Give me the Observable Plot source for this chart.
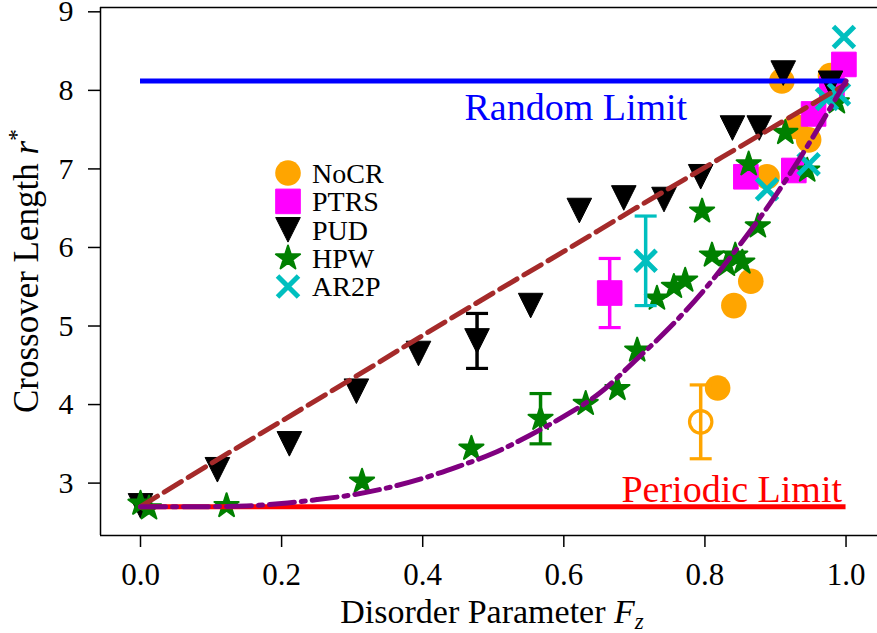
<!DOCTYPE html>
<html><head><meta charset="utf-8">
<script src="https://cdn.jsdelivr.net/npm/d3@7"></script>
<script src="https://cdn.jsdelivr.net/npm/@observablehq/plot@0.6"></script>
<style>
html,body{margin:0;padding:0;background:#fff;}
#chart{width:877px;height:633px;overflow:hidden;}
#chart svg, #chart svg text, #chart svg tspan { font-family: "Liberation Serif", "DejaVu Serif", serif !important; }
</style></head><body><div id="chart"></div>
<script>
// ---------- data ----------
const xTicks = [0, 0.2, 0.4, 0.6, 0.8, 1.0];
const yTicks = [3, 4, 5, 6, 7, 8, 9];
const xDomain = [-0.0567, 1.0446];
const yDomain = [2.333, 9.055];

const seriesNames = ["NoCR", "PTRS", "PUD", "HPW", "AR2P"];

const nocrX = [0.841, 0.865, 0.818, 0.888, 0.928, 0.947, 0.909, 0.978];
const nocrY = [5.26, 5.57, 4.21, 6.90, 7.54, 7.37, 8.12, 8.19];
const nocrOpenX = [0.794], nocrOpenY = [3.78], nocrOpenErr = [0.47];

const ptrsX = [0.858, 0.926, 0.954, 0.980, 0.997];
const ptrsY = [6.90, 6.98, 7.70, 8.02, 8.33];
const ptrsErrX = [0.665], ptrsErrY = [5.42], ptrsErr = [0.44];

const pudX = [0.0, 0.109, 0.211, 0.306, 0.394, 0.553, 0.622, 0.685, 0.742, 0.794, 0.839, 0.877, 0.911, 0.978];
const pudY = [2.71, 3.17, 3.50, 4.17, 4.65, 5.26, 6.47, 6.63, 6.61, 6.90, 7.52, 7.52, 8.22, 8.09];
const pudErrX = [0.477], pudErrY = [4.81], pudErr = [0.35];

const hpwX = [0.0, 0.012, 0.122, 0.314, 0.469, 0.631, 0.676, 0.704, 0.732, 0.756, 0.772, 0.796, 0.810, 0.831, 0.843, 0.853, 0.862, 0.875, 0.914, 0.945, 0.987];
const hpwY = [2.74, 2.68, 2.71, 3.02, 3.44, 4.01, 4.20, 4.69, 5.35, 5.50, 5.58, 6.46, 5.90, 5.78, 5.90, 5.81, 7.06, 6.27, 7.46, 6.98, 7.85];
const hpwErrX = [0.567], hpwErrY = [3.82], hpwErr = [0.32];

const ar2pX = [0.888, 0.947, 0.973, 0.990, 0.997];
const ar2pY = [6.74, 7.06, 7.89, 7.95, 8.68];
const ar2pErrX = [0.716], ar2pErrY = [5.83], ar2pErr = [0.57];

const fitLinX = [0, 0.1, 0.2, 0.3, 0.4, 0.5, 0.6, 0.7, 0.8, 0.9, 1.0];
const fitLinY = [2.70, 3.25, 3.79, 4.33, 4.88, 5.42, 5.95, 6.49, 7.02, 7.55, 8.08];

const fitPowX = [0, 0.05, 0.1, 0.15, 0.2, 0.25, 0.3, 0.35, 0.4, 0.45, 0.5, 0.55, 0.6, 0.65, 0.7, 0.75, 0.8, 0.85, 0.9, 0.95, 1.0];
const fitPowY = [2.70, 2.70, 2.70, 2.71, 2.74, 2.79, 2.85, 2.94, 3.06, 3.21, 3.38, 3.60, 3.85, 4.14, 4.55, 4.98, 5.47, 6.04, 6.66, 7.36, 8.12];

const randomLimit = 8.12, periodicLimit = 2.70;
const limitSpan = [0, 1.0];
const annotations = [
  {label: "Random Limit", x: 0.617, y: 7.78, color: "#0000ff"},
  {label: "Periodic Limit", x: 0.838, y: 2.91, color: "#ff0000"}
];

// ---------- helpers ----------
const pts = (xs, ys, es) => xs.map((x, i) => ({x, y: ys[i], e: es ? es[i] : 0}));
const colors = {NoCR: "#ffa500", PTRS: "#ff00ff", PUD: "#000000", HPW: "#008000", AR2P: "#00bfbf"};

const triDown = {draw(c, s) { const h = Math.sqrt(s / Math.PI); c.moveTo(-h, -h); c.lineTo(h, -h); c.lineTo(0, h); c.closePath(); }};
const sq = {draw(c, s) { const h = Math.sqrt(s / Math.PI); c.moveTo(-h, -h); c.lineTo(h, -h); c.lineTo(h, h); c.lineTo(-h, h); c.closePath(); }};
const xMark = {draw(c, s) { const h = Math.sqrt(s / Math.PI); c.moveTo(-h, -h); c.lineTo(h, h); c.moveTo(h, -h); c.lineTo(-h, h); }};
const capMark = {draw(c, s) { const h = Math.sqrt(s / Math.PI); c.moveTo(-h, 0); c.lineTo(h, 0); }};

const styles = {
  NoCR: {symbol: "circle", r: 12.8, fill: colors.NoCR, stroke: "none"},
  PTRS: {symbol: sq, r: 12.3, fill: colors.PTRS, stroke: colors.PTRS, strokeWidth: 1, strokeLinejoin: "round"},
  PUD: {symbol: triDown, r: 12.3, fill: colors.PUD, stroke: colors.PUD, strokeWidth: 1, strokeLinejoin: "round"},
  HPW: {symbol: "star", r: 7.6, fill: colors.HPW, stroke: colors.HPW, strokeWidth: 2, strokeLinejoin: "round"},
  AR2P: {symbol: xMark, r: 10.5, fill: "none", stroke: colors.AR2P, strokeWidth: 5}
};

function errMarks(data, color) {
  return [
    Plot.ruleX(data, {x: "x", y1: d => d.y - d.e, y2: d => d.y + d.e, stroke: color, strokeWidth: 3.5}),
    Plot.dot(data, {x: "x", y: d => d.y - d.e, symbol: capMark, r: 11, stroke: color, fill: "none", strokeWidth: 3.2}),
    Plot.dot(data, {x: "x", y: d => d.y + d.e, symbol: capMark, r: 11, stroke: color, fill: "none", strokeWidth: 3.2})
  ];
}

const plot = Plot.plot({
  width: 877, height: 633,
  marginLeft: 100, marginRight: 0, marginTop: 7, marginBottom: 98,
  style: {fontSize: "30px", background: "#fff", overflow: "hidden"},
  x: {domain: xDomain},
  y: {domain: yDomain},
  marks: [
    Plot.axisX(xTicks, {tickSize: 12, tickPadding: 15, tickFormat: d3.format(".1f"), label: null, strokeWidth: 1.5, fontSize: 31, fill: "#000"}),
    Plot.axisY(yTicks, {tickSize: 12, tickPadding: 15, tickFormat: d3.format("d"), label: null, strokeWidth: 1.5, fontSize: 30, fill: "#000"}),
    // series markers
    Plot.dot(pts(nocrX, nocrY), {x: "x", y: "y", ...styles.NoCR}),
    ...errMarks(pts(nocrOpenX, nocrOpenY, nocrOpenErr), colors.NoCR),
    Plot.dot(pts(nocrOpenX, nocrOpenY), {x: "x", y: "y", symbol: "circle", r: 11.2, fill: "none", stroke: colors.NoCR, strokeWidth: 3.2}),
    Plot.dot(pts(ptrsX, ptrsY), {x: "x", y: "y", ...styles.PTRS}),
    ...errMarks(pts(ptrsErrX, ptrsErrY, ptrsErr), colors.PTRS),
    Plot.dot(pts(ptrsErrX, ptrsErrY), {x: "x", y: "y", ...styles.PTRS}),
    Plot.dot(pts(pudX, pudY), {x: "x", y: "y", ...styles.PUD}),
    ...errMarks(pts(pudErrX, pudErrY, pudErr), colors.PUD),
    Plot.dot(pts(pudErrX, pudErrY), {x: "x", y: "y", ...styles.PUD}),
    Plot.dot(pts(hpwX, hpwY), {x: "x", y: "y", ...styles.HPW}),
    ...errMarks(pts(hpwErrX, hpwErrY, hpwErr), colors.HPW),
    Plot.dot(pts(hpwErrX, hpwErrY), {x: "x", y: "y", ...styles.HPW}),
    Plot.dot(pts(ar2pX, ar2pY), {x: "x", y: "y", ...styles.AR2P}),
    ...errMarks(pts(ar2pErrX, ar2pErrY, ar2pErr), colors.AR2P),
    Plot.dot(pts(ar2pErrX, ar2pErrY), {x: "x", y: "y", ...styles.AR2P}),
    // limits
    Plot.ruleY([periodicLimit], {x1: limitSpan[0], x2: limitSpan[1], stroke: "#ff0000", strokeWidth: 5}),
    Plot.ruleY([randomLimit], {x1: limitSpan[0], x2: limitSpan[1], stroke: "#0000ff", strokeWidth: 5}),
    // fits
    Plot.line(pts(fitLinX, fitLinY), {x: "x", y: "y", stroke: "#a52a2a", strokeWidth: 5, strokeDasharray: "20 8", curve: "catmull-rom"}),
    Plot.line(pts(fitPowX, fitPowY), {x: "x", y: "y", stroke: "#800080", strokeWidth: 5, strokeDasharray: "25 7 4 7", curve: "catmull-rom"}),
    // annotations
    Plot.text(annotations, {x: "x", y: "y", text: "label", fill: "color", fontSize: 38, textAnchor: "middle"}),
    // frame (left, top, bottom)
    Plot.ruleX([xDomain[0]], {stroke: "#000", strokeWidth: 1.5}),
    Plot.ruleY(yDomain, {stroke: "#000", strokeWidth: 1.5})
  ]
});

document.getElementById("chart").appendChild(plot);
const svg = d3.select(plot);

// axis labels with math styling
const xl = svg.append("text").attr("x", 492).attr("y", 623).attr("text-anchor", "middle")
  .attr("font-size", 34).attr("fill", "#000");
xl.append("tspan").text("Disorder Parameter ");
xl.append("tspan").attr("font-style", "italic").text("F");
xl.append("tspan").attr("font-style", "italic").attr("font-size", 23).attr("dy", 6).text("z");

const yl = svg.append("text").attr("transform", "translate(38,271) rotate(-90)").attr("text-anchor", "middle")
  .attr("font-size", 35).attr("fill", "#000");
yl.append("tspan").text("Crossover Length ");
yl.append("tspan").attr("font-style", "italic").text("r");
yl.append("tspan").attr("font-size", 24).attr("dy", -14).text("*");

// legend
const lg = svg.append("g");
const legendY0 = 173, legendStep = 28.4, legendMX = 288, legendTX = 312;
seriesNames.forEach((name, i) => {
  const st = styles[name];
  const y = legendY0 + i * legendStep;
  lg.append("path")
    .attr("transform", `translate(${legendMX},${y})`)
    .attr("d", d3.symbol(st.symbol === "circle" ? d3.symbolCircle : st.symbol === "star" ? d3.symbolStar : st.symbol, Math.PI * st.r * st.r)())
    .attr("fill", st.fill).attr("stroke", st.stroke).attr("stroke-width", st.strokeWidth || 0)
    .attr("stroke-linejoin", "round");
  lg.append("text").attr("x", legendTX).attr("y", y).attr("dy", "0.35em").attr("text-anchor", "start")
    .attr("font-size", 28).attr("fill", "#000").text(name);
});
</script></body></html>
